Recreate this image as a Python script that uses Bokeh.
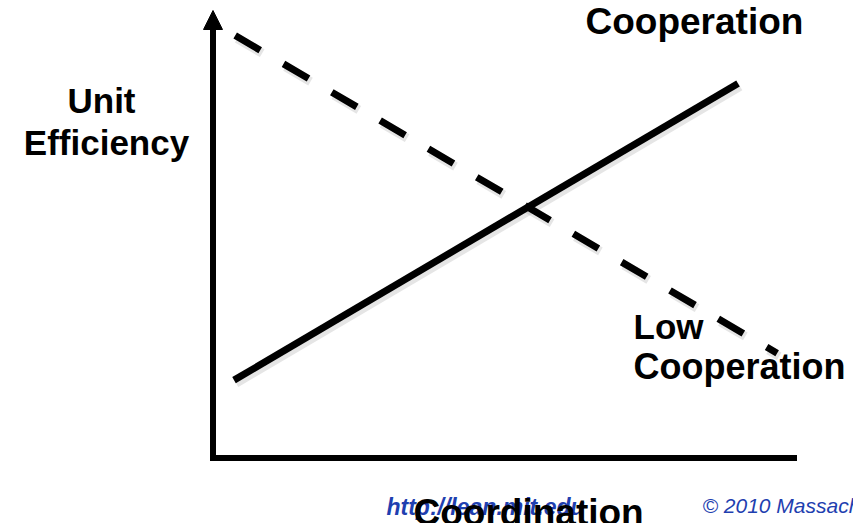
from bokeh.plotting import figure
from bokeh.models import Range1d, Label, Arrow, NormalHead
from bokeh.embed import file_html
from bokeh.resources import INLINE

# ---- data (conceptual units: 0..10 on both axes) ----
coordination_axis = [0, 10]          # horizontal axis extent
efficiency_axis = [0, 10]            # vertical axis extent (arrow tip)
high_coop_x = [0.36, 8.99]           # "High Cooperation" solid line
high_coop_y = [1.74, 8.37]
low_coop_x = [0.38, 9.66]            # "Low Cooperation" dashed line
low_coop_y = [9.44, 2.34]

# ---- layout: page pixel -> data mapping ----
W, H = 853, 523
OFF = 0                   # canvas offset on the page
X0, Y0 = 212.5, 457.5     # page pixel of the origin
SX, SY = 58.4, 44.75      # pixels per unit

def px2x(X):
    return (X - X0) / SX

def px2y(Y):
    return (Y0 - Y) / SY

p = figure(width=W, height=H, output_backend="svg", toolbar_location=None,
           x_axis_type=None, y_axis_type=None, min_border=0,
           x_range=Range1d(px2x(OFF), px2x(OFF + W)),
           y_range=Range1d(px2y(OFF + H), px2y(OFF)))
p.outline_line_color = None
p.background_fill_color = "white"
p.border_fill_color = "white"

# shadows
sh_dx, sh_dy = 2.0 / SX, -3.0 / SY
p.line([v + sh_dx for v in high_coop_x], [v + sh_dy for v in high_coop_y],
       line_width=9, line_color="#999999", line_alpha=0.25, line_cap="butt")
p.line([v + sh_dx for v in low_coop_x], [v + sh_dy for v in low_coop_y],
       line_width=9, line_color="#999999", line_alpha=0.25, line_dash="29 27", line_cap="butt")

# axes
head_len = 18.0 / SY
p.line([coordination_axis[0], coordination_axis[0], coordination_axis[1]],
       [efficiency_axis[1] - head_len, efficiency_axis[0], efficiency_axis[0]],
       line_width=6, line_color="black", line_join="miter", line_cap="butt")
p.add_layout(Arrow(end=NormalHead(size=19, fill_color="black", line_color="black"),
                   x_start=coordination_axis[0], y_start=efficiency_axis[1] - head_len,
                   x_end=coordination_axis[0], y_end=efficiency_axis[1],
                   line_alpha=0))

# data lines
p.line(high_coop_x, high_coop_y, line_width=7, line_color="black", line_cap="butt")
p.line(low_coop_x, low_coop_y, line_width=7, line_color="black", line_cap="butt",
       line_dash="29 27")

FONT = "Liberation Sans"
def lab(text, X, Y, size, align="left", style="bold", color="black"):
    # Y is the wanted baseline; compensate renderer's baseline offset
    Yb = Y - 0.29 * size
    p.add_layout(Label(x=px2x(X), y=px2y(Yb), text=text, text_font=FONT,
                       text_font_size=f"{size}px", text_font_style=style,
                       text_color=color, text_align=align,
                       text_baseline="alphabetic"))

# footer (behind the axis title)
lab("http://lean.mit.edu", 386, 513, 23, style="bold italic", color="#1f3fb0")
lab("\u00a9 2010 Massachusetts Institute of Technology", 702, 511, 21,
    style="italic", color="#1f3fb0")

lab("Cooperation", 585, 32, 37)
lab("Unit", 101, 110, 35, align="center")
lab("Efficiency", 106, 152, 35, align="center")
lab("Low", 633, 336, 35)
lab("Cooperation", 633, 376, 36)
lab("Coordination", 413, 523, 37)

open("out.html", "w").write(file_html(p, INLINE))
